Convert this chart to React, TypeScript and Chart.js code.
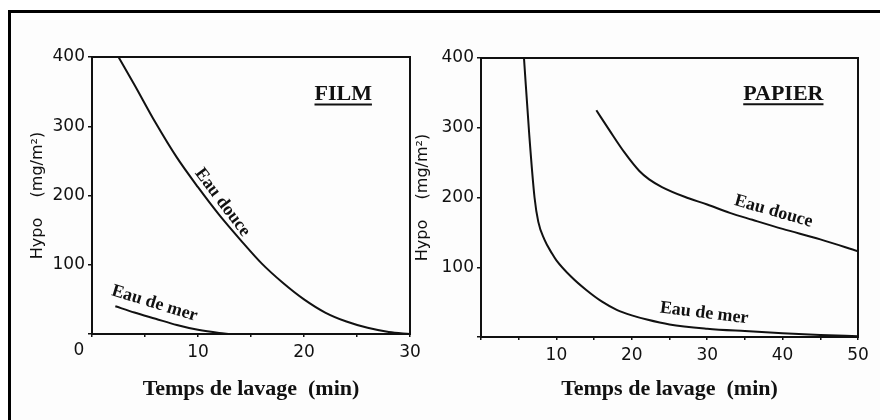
import React, { useEffect, useRef } from 'react';
import { Chart, registerables } from 'chart.js';

Chart.register(...registerables);

// ---- Data ----
// FILM panel
const filmDouceX = [2.5, 4, 6, 8, 10, 12, 14, 16, 18, 20, 22, 24, 26, 28, 30];
const filmDouceY = [400, 360, 305, 255, 212, 172, 136, 102, 74, 50, 31, 18, 9, 3, 0];
const filmMerX = [2.2, 4, 6, 8, 10, 12, 13];
const filmMerY = [40, 31, 22, 13, 6, 1.5, 0];
// PAPIER panel
const papierDouceX = [15.3, 17, 19, 21, 22.3, 24, 27, 30, 33, 36, 40, 45, 50];
const papierDouceY = [325, 297, 265, 238, 226, 215, 201, 190, 178, 168, 155, 140, 123];
const papierMerX = [5.7, 6.4, 7.1, 7.6, 8.4, 9.4, 10, 12, 14, 16, 18, 20, 22, 25, 30, 35, 40, 45, 50];
const papierMerY = [400, 290, 200, 165, 140, 120, 110, 86, 67, 51, 39, 31, 25, 18, 12, 8.5, 5.5, 3, 1];

// Axis ranges / tick labels
const yTickValues = [100, 200, 300, 400];
const filmXLabels = [10, 20, 30];
const papierXLabels = [10, 20, 30, 40, 50];

// Text
const xTitle = 'Temps de lavage  (min)';
const yTitle = 'Hypo    (mg/m²)';
const filmTitle = 'FILM';
const papierTitle = 'PAPIER';
// curve labels: [text, x, y, angle(deg)]
const filmLabels: [string, number, number, number][] = [
  ['Eau douce', 12.3, 190, 53],
  ['Eau de mer', 5.9, 44, 17],
];
const papierLabels: [string, number, number, number][] = [
  ['Eau douce', 38.8, 180, 16],
  ['Eau de mer', 29.6, 34, 7],
];

const INK = '#111';

function pts(xs: number[], ys: number[]) {
  return xs.map((v, i) => ({ x: v, y: ys[i] }));
}

interface Panel {
  series: { x: number[]; y: number[] }[];
  xMax: number;
  xLabels: number[];
  padTop: number;
  padRight: number;
  yWidth: number;
  xHeight: number;
  yTitlePad: number;
  title: string;
  titlePos: [number, number];
  labels: [string, number, number, number][];
  zeroLabel: boolean;
}

function decor(p: Panel) {
  return {
    id: 'decor',
    afterDraw(chart: any) {
      const { ctx, chartArea: a, scales } = chart;
      const xs = scales.x;
      const ys = scales.y;
      ctx.save();
      // plot frame
      ctx.strokeStyle = INK;
      ctx.lineWidth = 2;
      ctx.strokeRect(a.left, a.top, a.right - a.left, a.bottom - a.top);
      // panel title (underlined)
      ctx.fillStyle = INK;
      ctx.font = 'bold 22px "Liberation Serif"';
      ctx.textAlign = 'center';
      ctx.textBaseline = 'alphabetic';
      const tx = xs.getPixelForValue(p.titlePos[0]);
      const ty = ys.getPixelForValue(p.titlePos[1]);
      ctx.fillText(p.title, tx, ty);
      const w = ctx.measureText(p.title).width;
      ctx.lineWidth = 2;
      ctx.beginPath();
      ctx.moveTo(tx - w / 2, ty + 4.5);
      ctx.lineTo(tx + w / 2, ty + 4.5);
      ctx.stroke();
      // curve labels
      ctx.font = 'bold 18px "Liberation Serif"';
      ctx.textBaseline = 'middle';
      for (const [t, lx, ly, ang] of p.labels) {
        ctx.save();
        ctx.translate(xs.getPixelForValue(lx), ys.getPixelForValue(ly));
        ctx.rotate((ang * Math.PI) / 180);
        ctx.fillText(t, 0, 0);
        ctx.restore();
      }
      // origin "0" label, offset left of the corner
      if (p.zeroLabel) {
        ctx.font = '17px "DejaVu Sans"';
        ctx.textBaseline = 'top';
        ctx.fillText('0', xs.getPixelForValue(0) - 13, a.bottom + 8);
      }
      ctx.restore();
    },
  };
}

function panelConfig(p: Panel): any {
  return {
    type: 'line',
    data: {
      datasets: p.series.map((s) => ({
        data: pts(s.x, s.y),
        borderColor: INK,
        borderWidth: 2,
        pointRadius: 0,
        fill: false,
        cubicInterpolationMode: 'monotone',
      })),
    },
    options: {
      responsive: false,
      animation: false,
      devicePixelRatio: 1,
      layout: { padding: { left: 0, top: p.padTop, right: p.padRight, bottom: 0 } },
      plugins: { legend: { display: false }, tooltip: { enabled: false } },
      scales: {
        x: {
          type: 'linear',
          min: 0,
          max: p.xMax,
          afterFit: (s: any) => {
            s.height = p.xHeight;
          },
          border: { display: false },
          grid: {
            display: true,
            drawOnChartArea: false,
            drawTicks: true,
            tickLength: 3,
            color: INK,
            lineWidth: 1.5,
          },
          ticks: {
            stepSize: 5,
            autoSkip: false,
            maxRotation: 0,
            padding: 5,
            color: INK,
            font: { family: 'DejaVu Sans', size: 17 },
            callback: (v: number) => (p.xLabels.includes(v) ? String(v) : ''),
          },
          title: {
            display: true,
            text: xTitle,
            color: INK,
            font: { family: 'Liberation Serif', size: 22, weight: 'bold' },
            padding: { top: 0, bottom: 17 },
          },
        },
        y: {
          min: 0,
          max: 400,
          afterFit: (s: any) => {
            s.width = p.yWidth;
          },
          border: { display: false },
          grid: {
            display: true,
            drawOnChartArea: false,
            drawTicks: true,
            tickLength: 4,
            color: INK,
            lineWidth: 1.5,
          },
          ticks: {
            stepSize: 100,
            padding: 3,
            color: INK,
            font: { family: 'DejaVu Sans', size: 17 },
            callback: (v: number) => (yTickValues.includes(v) ? String(v) : ''),
          },
          title: {
            display: true,
            text: yTitle,
            color: INK,
            font: { family: 'DejaVu Sans', size: 16 },
            padding: { top: p.yTitlePad, bottom: 0 },
          },
        },
      },
    },
    plugins: [decor(p)],
  };
}

export default function App() {
  const leftRef = useRef<HTMLCanvasElement>(null);
  const rightRef = useRef<HTMLCanvasElement>(null);

  useEffect(() => {
    const film: Panel = {
      series: [
        { x: filmDouceX, y: filmDouceY },
        { x: filmMerX, y: filmMerY },
      ],
      xMax: 30,
      xLabels: filmXLabels,
      padTop: 57,
      padRight: 30,
      yWidth: 92,
      xHeight: 86,
      yTitlePad: 28,
      title: filmTitle,
      titlePos: [23.7, 338],
      labels: filmLabels,
      zeroLabel: true,
    };
    const papier: Panel = {
      series: [
        { x: papierDouceX, y: papierDouceY },
        { x: papierMerX, y: papierMerY },
      ],
      xMax: 50,
      xLabels: papierXLabels,
      padTop: 58,
      padRight: 22,
      yWidth: 81,
      xHeight: 83,
      yTitlePad: 13,
      title: papierTitle,
      titlePos: [40.1, 340],
      labels: papierLabels,
      zeroLabel: false,
    };
    const c1 = new Chart(leftRef.current!, panelConfig(film));
    const c2 = new Chart(rightRef.current!, panelConfig(papier));
    return () => {
      c1.destroy();
      c2.destroy();
    };
  }, []);

  return (
    <div
      style={{
        position: 'fixed',
        left: 0,
        top: 0,
        width: 880,
        height: 420,
        overflow: 'hidden',
        background: '#fff',
      }}
    >
      <div
        style={{
          position: 'absolute',
          left: 8,
          top: 10,
          width: 920,
          height: 440,
          border: '3px solid #000',
          boxSizing: 'border-box',
          background: '#fdfdfd',
        }}
      />
      <canvas
        ref={leftRef}
        width={440}
        height={420}
        style={{ position: 'absolute', left: 0, top: 0 }}
      />
      <canvas
        ref={rightRef}
        width={480}
        height={420}
        style={{ position: 'absolute', left: 400, top: 0 }}
      />
    </div>
  );
}
